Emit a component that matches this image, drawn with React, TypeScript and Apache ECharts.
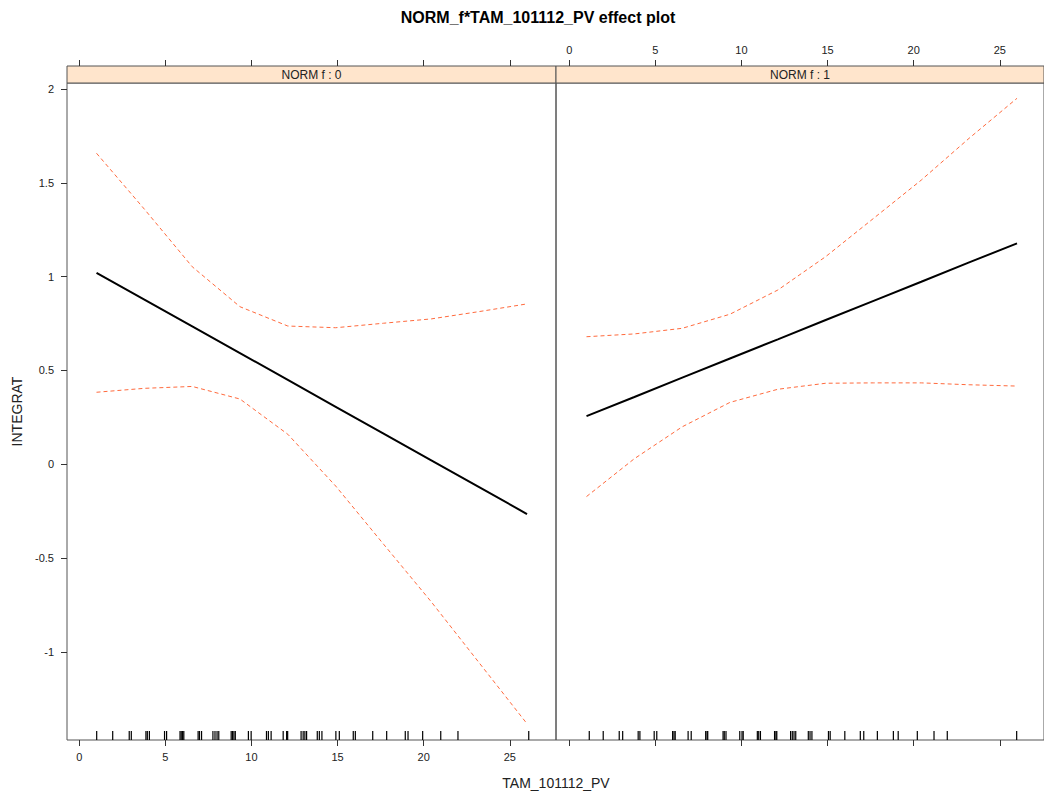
import React, { useEffect, useRef } from "react";
import * as echarts from "echarts";

// evaluation points of the effect (TAM_101112_PV)
const xLevels = [1, 3.78, 6.56, 9.33, 12.11, 14.89, 17.67, 20.44, 23.22, 26];

// panel NORM f : 0
const fit0 = [1.021, 0.878, 0.735, 0.593, 0.45, 0.306, 0.163, 0.021, -0.122, -0.265];
const upper0 = [1.658, 1.36, 1.053, 0.84, 0.737, 0.728, 0.752, 0.775, 0.814, 0.855];
const lower0 = [0.384, 0.405, 0.415, 0.348, 0.16, -0.116, -0.426, -0.733, -1.058, -1.383];

// panel NORM f : 1
const fit1 = [0.257, 0.359, 0.462, 0.564, 0.666, 0.769, 0.871, 0.973, 1.076, 1.178];
const upper1 = [0.68, 0.695, 0.725, 0.8, 0.929, 1.107, 1.311, 1.515, 1.738, 1.951];
const lower1 = [-0.172, 0.03, 0.2, 0.33, 0.4, 0.432, 0.434, 0.434, 0.424, 0.417];

// rug (jittered observed values)
const rug0 = [1.01, 1.94, 2.9, 3.02, 3.87, 3.95, 4.07, 4.95, 5.07, 5.85, 5.92, 6.0, 6.07, 6.9, 6.98, 7.1, 7.76, 7.88, 8.0, 8.1, 8.82, 8.9, 8.98, 9.06, 9.82, 9.98, 10.87, 10.98, 11.14, 11.84, 12.04, 12.1, 12.88, 13.0, 13.1, 13.2, 13.82, 13.94, 14.09, 14.9, 15.1, 15.91, 16.03, 17.04, 17.85, 18.93, 19.09, 19.94, 20.99, 21.99, 26.1];
const rug1 = [1.16, 1.97, 2.9, 3.1, 4.0, 4.1, 4.93, 5.08, 6.0, 6.08, 6.15, 6.9, 7.08, 7.92, 8.0, 8.04, 8.93, 9.0, 9.1, 9.9, 10.03, 10.1, 10.92, 11.0, 11.1, 11.92, 12.0, 12.05, 12.85, 12.95, 13.05, 13.15, 13.88, 13.98, 14.09, 15.05, 15.15, 16.0, 16.9, 17.1, 17.89, 18.82, 19.1, 20.21, 21.18, 21.95, 25.98];

const xTicks = [0, 5, 10, 15, 20, 25];
const yTicks = [-1, -0.5, 0, 0.5, 1, 1.5, 2];
const stripLabels = ["NORM f : 0", "NORM f : 1"];

const Y_MIN = -1.4696;
const Y_MAX = 2.0325;
const X0_MIN = -0.714;
const X0_MAX = 27.683;
const X1_MIN = -0.772;
const X1_MAX = 27.567;

const FONT = "'Liberation Sans', Arial, sans-serif";
const TXT = "#222";
const CI_COLOR = "#ff6a3d";

const zip = (xs: number[], ys: number[]) => xs.map((x, i) => [x, ys[i]]);

export default function App() {
  const ref = useRef<HTMLDivElement>(null);
  useEffect(() => {
    if (!ref.current) return;
    const chart = echarts.init(ref.current, null, { renderer: "svg" });

    const tickStyle = { show: true, length: 6, inside: false, lineStyle: { color: "#333", width: 1 }, customValues: xTicks };
    const baseX = (gridIndex: number, min: number, max: number, position: string, labels: boolean, offset = 0) => ({
      type: "value",
      gridIndex,
      min,
      max,
      position,
      offset,
      axisLine: { show: false, onZero: false },
      splitLine: { show: false },
      axisTick: tickStyle,
      axisLabel: { show: labels, customValues: xTicks, color: TXT, fontSize: 11, fontFamily: FONT, margin: 11 },
    });

    const lineSeries = (data: number[][], xi: number, dashed: boolean) => ({
      type: "line",
      xAxisIndex: xi,
      yAxisIndex: xi,
      data,
      showSymbol: false,
      symbol: "none",
      smooth: false,
      silent: true,
      lineStyle: dashed
        ? { color: CI_COLOR, width: 1, type: [4, 3] }
        : { color: "#000", width: 2 },
      z: dashed ? 3 : 4,
    });

    const rugSeries = (vals: number[], xi: number) => ({
      type: "custom",
      xAxisIndex: xi,
      yAxisIndex: xi,
      silent: true,
      data: vals.map((v) => [v, Y_MIN]),
      renderItem: (_p: any, api: any) => {
        const p = api.coord([api.value(0), Y_MIN]);
        return {
          type: "line",
          shape: { x1: p[0], y1: p[1], x2: p[0], y2: p[1] - 9 },
          style: { stroke: "#000", lineWidth: 1.2 },
        };
      },
      z: 5,
    });

    const option: any = {
      animation: false,
      backgroundColor: "#fff",
      grid: [
        { left: 67, top: 83, width: 489, height: 657, show: true, borderColor: "#555", borderWidth: 1, backgroundColor: "transparent" },
        { left: 556, top: 83, width: 488, height: 657, show: true, borderColor: "#555", borderWidth: 1, backgroundColor: "transparent" },
      ],
      xAxis: [
        baseX(0, X0_MIN, X0_MAX, "bottom", true),
        baseX(1, X1_MIN, X1_MAX, "bottom", false),
        baseX(0, X0_MIN, X0_MAX, "top", false, 17),
        baseX(1, X1_MIN, X1_MAX, "top", true, 17),
      ],
      yAxis: [
        {
          type: "value",
          gridIndex: 0,
          min: Y_MIN,
          max: Y_MAX,
          position: "left",
          axisLine: { show: false, onZero: false },
          splitLine: { show: false },
          axisTick: { show: true, length: 6, inside: false, lineStyle: { color: "#333" }, customValues: yTicks },
          axisLabel: { customValues: yTicks, color: TXT, fontSize: 11, fontFamily: FONT, margin: 13 },
          name: "INTEGRAT",
          nameLocation: "middle",
          nameGap: 43,
          nameTextStyle: { color: TXT, fontSize: 14, fontFamily: FONT },
        },
        {
          type: "value",
          gridIndex: 1,
          min: Y_MIN,
          max: Y_MAX,
          show: false,
          axisLine: { onZero: false },
          splitLine: { show: false },
        },
      ],
      graphic: [
        {
          type: "text",
          x: 538,
          y: 17,
          style: {
            text: "NORM_f*TAM_101112_PV effect plot",
            fontSize: 16,
            fontWeight: "bold",
            fontFamily: "'Liberation Sans Narrow', 'Liberation Sans', Arial, sans-serif",
            fill: "#000",
            textAlign: "center",
            textVerticalAlign: "middle",
          },
        },
        { type: "rect", shape: { x: 67, y: 66, width: 489, height: 17 }, style: { fill: "#ffe5cc", stroke: "#555", lineWidth: 1 } },
        { type: "rect", shape: { x: 556, y: 66, width: 488, height: 17 }, style: { fill: "#ffe5cc", stroke: "#555", lineWidth: 1 } },
        {
          type: "text",
          x: 311.5,
          y: 75,
          style: { text: stripLabels[0], fontSize: 12, fontFamily: FONT, fill: TXT, textAlign: "center", textVerticalAlign: "middle" },
        },
        {
          type: "text",
          x: 800,
          y: 75,
          style: { text: stripLabels[1], fontSize: 12, fontFamily: FONT, fill: TXT, textAlign: "center", textVerticalAlign: "middle" },
        },
        {
          type: "text",
          x: 556,
          y: 783,
          style: { text: "TAM_101112_PV", fontSize: 14, fontFamily: FONT, fill: TXT, textAlign: "center", textVerticalAlign: "middle" },
        },
      ],
      series: [
        lineSeries(zip(xLevels, upper0), 0, true),
        lineSeries(zip(xLevels, lower0), 0, true),
        lineSeries(zip(xLevels, fit0), 0, false),
        rugSeries(rug0, 0),
        lineSeries(zip(xLevels, upper1), 1, true),
        lineSeries(zip(xLevels, lower1), 1, true),
        lineSeries(zip(xLevels, fit1), 1, false),
        rugSeries(rug1, 1),
      ],
    };

    chart.setOption(option);
    return () => chart.dispose();
  }, []);

  return <div ref={ref} style={{ position: "absolute", left: 0, top: 0, width: 1044, height: 794 }} />;
}
